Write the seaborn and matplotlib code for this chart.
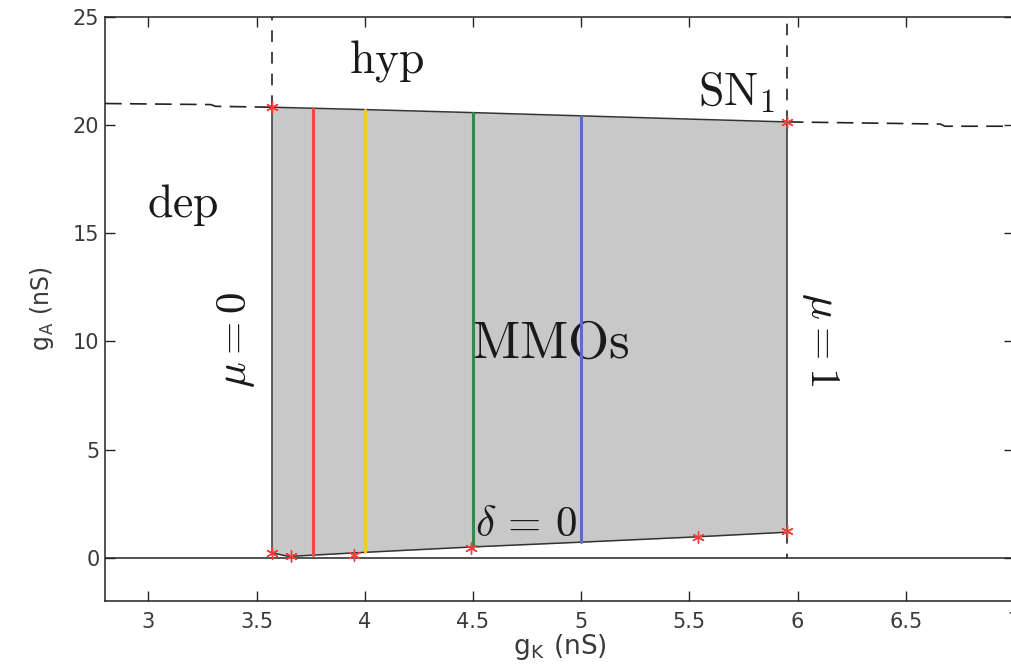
import numpy as np
import pandas as pd
import matplotlib
matplotlib.use("Agg")
import matplotlib.pyplot as plt
import seaborn as sns

# Boundaries of the MMO region in the (g_K, g_A) plane
top_gk = [3.57, 4.0, 4.5, 5.0, 5.5, 5.95]
top_ga = [20.83, 20.72, 20.58, 20.43, 20.28, 20.15]
bot_gk = [3.57, 3.65, 3.76, 4.0, 4.5, 5.0, 5.5, 5.95]
bot_ga = [0.23, 0.06, 0.12, 0.25, 0.50, 0.72, 0.95, 1.18]

# SN_1 fold curve outside the region (dashed)
sn_left_gk = [2.8, 3.29, 3.31, 3.57]
sn_left_ga = [21.0, 20.95, 20.87, 20.83]
sn_right_gk = [5.95, 6.66, 6.68, 7.0]
sn_right_ga = [20.15, 20.05, 19.95, 19.95]

# Marked parameter points
star_gk = [3.57, 5.95, 3.57, 3.66, 3.95, 4.49, 5.54, 5.95]
star_ga = [20.83, 20.15, 0.23, 0.06, 0.14, 0.46, 0.97, 1.22]

# Sample g_K values shown as vertical sections
section_gk = [3.76, 4.0, 4.5, 5.0]
section_colors = ["#ec4a40", "#f8c52c", "#2f8a4c", "#5d6cc0"]

xticks = [3, 3.5, 4, 4.5, 5, 5.5, 6, 6.5, 7]
yticks = [0, 5, 10, 15, 20, 25]

sns.set_style("ticks")
plt.rcParams["mathtext.fontset"] = "cm"
plt.rcParams["font.family"] = ["DejaVu Sans"]

fig = plt.figure(figsize=(10.12, 6.67), dpi=100)
ax = fig.add_axes([105 / 1012, 66 / 667, 909 / 1012, 584 / 667])

# Shaded MMO region
fill_x = np.linspace(top_gk[0], top_gk[-1], 200)
ax.fill_between(fill_x, np.interp(fill_x, bot_gk, bot_ga),
                np.interp(fill_x, top_gk, top_ga),
                color="#c8c8c8", lw=0, zorder=1)

edge = dict(color="#333333", lw=1.1, zorder=3)
ax.plot(top_gk, top_ga, **edge)
ax.plot(bot_gk, bot_ga, **edge)
ax.plot([top_gk[0], bot_gk[0]], [top_ga[0], bot_ga[0]], **edge)
ax.plot([top_gk[-1], bot_gk[-1]], [top_ga[-1], bot_ga[-1]], **edge)

# Vertical sections
for gk, col in zip(section_gk, section_colors):
    lo = np.interp(gk, bot_gk, bot_ga)
    hi = np.interp(gk, top_gk, top_ga)
    df = pd.DataFrame({"gk": [gk, gk], "ga": [lo, hi]})
    sns.lineplot(data=df, x="gk", y="ga", ax=ax, color=col, lw=2.2,
                 sort=False, estimator=None, zorder=4)

# Dashed bifurcation curves
hdash = dict(color="#222222", lw=1.2, ls=(0, (10, 5)), zorder=2)
vdash = dict(color="#222222", lw=1.2, ls=(0, (7, 6)), zorder=2)
ax.plot(sn_left_gk, sn_left_ga, **hdash)
ax.plot(sn_right_gk, sn_right_ga, **hdash)
ax.plot([top_gk[0], top_gk[0]], [top_ga[0], 25], **vdash)
ax.plot([top_gk[-1], top_gk[-1]], [top_ga[-1], 25], **vdash)
ax.plot([bot_gk[-1], bot_gk[-1]], [bot_ga[-1], 0], **vdash)

# g_A = 0 line
ax.axhline(0, color="#222222", lw=1.1, zorder=2)

sns.scatterplot(x=star_gk, y=star_ga, ax=ax, marker=(6, 2, 0), s=70,
                color="#ff3a3a", linewidth=1.0, zorder=5)

ax.set_xlim(2.8, 7)
ax.set_ylim(-2, 25)
ax.set_xticks(xticks)
ax.set_xticklabels([f"{t:g}" for t in xticks])
ax.set_yticks(yticks)
ax.tick_params(direction="in", length=7, width=1, top=True, right=True,
               labelsize=15, labelcolor="#3a3a3a")
ax.tick_params(axis="y", pad=4)
ax.tick_params(axis="x", pad=8)
for s in ax.spines.values():
    s.set_linewidth(1.1)
    s.set_color("#222222")

ax.set_xlabel("g$_\\mathregular{K}$ (nS)", fontsize=19, color="#3a3a3a", labelpad=0)
ax.set_ylabel("g$_\\mathregular{A}$ (nS)", fontsize=17, color="#3a3a3a", labelpad=12)

txt = dict(color="#1a1a1a", ha="center", va="center")
ax.text(4.1, 22.95, r"$\mathrm{hyp}$", fontsize=33, **txt)
ax.text(5.72, 21.5, r"$\mathrm{SN}_1$", fontsize=33, **txt)
ax.text(3.16, 16.3, r"$\mathrm{dep}$", fontsize=33, **txt)
ax.text(4.86, 9.95, r"$\mathrm{MMOs}$", fontsize=38, **txt)
ax.text(3.405, 10.07, r"$\mu = 0$", fontsize=31, rotation=90, **txt)
ax.text(6.11, 10.1, r"$\mu = 1$", fontsize=31, rotation=-90, **txt)
ax.text(4.745, 1.55, r"$\delta\,=\,0$", fontsize=31, **txt)

fig.savefig("out.png", dpi=100)
